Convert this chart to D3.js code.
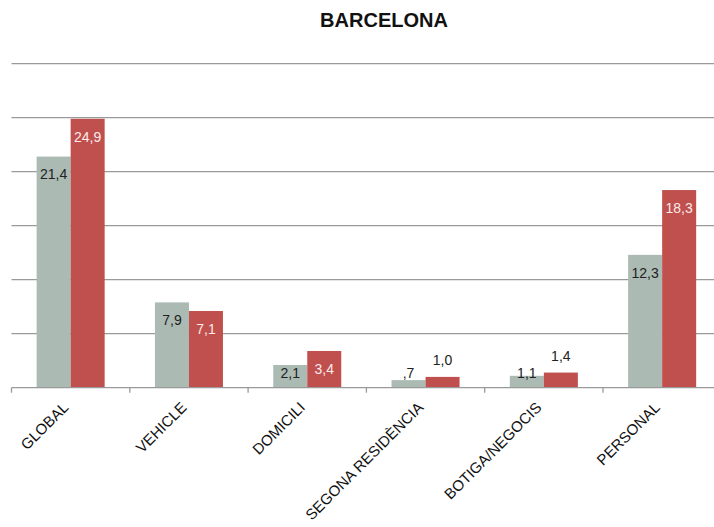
<!DOCTYPE html>
<html>
<head>
<meta charset="utf-8">
<script src="https://cdn.jsdelivr.net/npm/d3@7"></script>
<style>
  body { margin: 0; background: #fff; }
  svg { display: block; font-family: "Liberation Sans", Arial, sans-serif; }
</style>
</head>
<body>
<div id="chart"></div>
<script>
// data
var categories = ["GLOBAL", "VEHICLE", "DOMICILI", "SEGONA RESIDÈNCIA", "BOTIGA/NEGOCIS", "PERSONAL"];
var serieA = [21.4, 7.9, 2.1, 0.7, 1.1, 12.3];
var serieB = [24.9, 7.1, 3.4, 1.0, 1.4, 18.3];
var yTicks = [0, 5, 10, 15, 20, 25, 30];

var w = 714, h = 527;
var plotLeft = 11.5, step = 118.3,
    plotTop = 63.7, plotBottom = 387.7;

var colors = ["#abbab3", "#c0504d"];
var inside = ["#222", "#fbeaea"];

var svg = d3.select("#chart").append("svg")
    .attr("width", w)
    .attr("height", h);

var x = d3.scaleBand()
    .domain(categories)
    .range([plotLeft, plotLeft + step * categories.length])
    .paddingInner(0.425)
    .paddingOuter(0.2125);

var sub = d3.scaleBand()
    .domain([0, 1])
    .range([0, x.bandwidth()]);

var y = d3.scaleLinear()
    .domain([0, 30])
    .range([plotBottom, plotTop]);

// gridlines
svg.append("g")
  .selectAll("line")
  .data(yTicks.slice(1))
  .enter().append("line")
    .attr("x1", plotLeft)
    .attr("x2", w)
    .attr("y1", function(d) { return y(d); })
    .attr("y2", function(d) { return y(d); })
    .attr("stroke", "#9a9a9a")
    .attr("stroke-width", 1.3);

// bars
var rows = categories.map(function(c, i) {
  return [{cat: c, s: 0, v: serieA[i]}, {cat: c, s: 1, v: serieB[i]}];
});

var grp = svg.append("g")
  .selectAll("g")
  .data(rows)
  .enter().append("g")
    .attr("transform", function(d) { return "translate(" + x(d[0].cat) + ",0)"; });

grp.selectAll("rect")
  .data(function(d) { return d; })
  .enter().append("rect")
    .attr("x", function(d) { return sub(d.s); })
    .attr("width", sub.bandwidth())
    .attr("y", function(d) { return y(d.v); })
    .attr("height", function(d) { return y(0) - y(d.v); })
    .attr("fill", function(d) { return colors[d.s]; });

function fmt(v) {
  var s = v.toFixed(1).replace(".", ",");
  return s.charAt(0) == "0" ? s.slice(1) : s;
}

// label fits inside the bar top?
function fits(d) { return y(d.v) + 18 <= y(0) - 15; }

grp.selectAll("text")
  .data(function(d) { return d; })
  .enter().append("text")
    .attr("x", function(d) { return sub(d.s) + sub.bandwidth() / 2; })
    .attr("y", function(d) {
      if (fits(d)) return y(d.v) + 18;
      return d.s == 0 ? y(0) - 15 : y(d.v) - 16.5;
    })
    .attr("dy", "0.35em")
    .attr("text-anchor", "middle")
    .attr("font-size", 14)
    .attr("fill", function(d) {
      return fits(d) ? inside[d.s] : "#222";
    })
    .text(function(d) { return fmt(d.v); });

// x axis
var xAxis = svg.append("g")
    .attr("transform", "translate(0," + plotBottom + ")");

xAxis.append("line")
    .attr("x1", plotLeft)
    .attr("x2", w)
    .attr("stroke", "#9a9a9a")
    .attr("stroke-width", 1.3);

xAxis.selectAll(".tick")
  .data(categories)
  .enter().append("line")
    .attr("x1", function(d) { return x(d) - x.step() * x.paddingInner() / 2; })
    .attr("x2", function(d) { return x(d) - x.step() * x.paddingInner() / 2; })
    .attr("y1", 0)
    .attr("y2", 5)
    .attr("stroke", "#9a9a9a")
    .attr("stroke-width", 1.3);

xAxis.selectAll("text")
  .data(categories)
  .enter().append("text")
    .attr("transform", function(d) {
      return "translate(" + (x(d) + x.bandwidth() / 2 - 5) + ",17) rotate(-45)";
    })
    .attr("text-anchor", "end")
    .attr("dy", "0.35em")
    .attr("font-size", 15)
    .attr("fill", "#111")
    .text(function(d) { return d; });

// title
svg.append("text")
    .attr("x", 384)
    .attr("y", 27)
    .attr("text-anchor", "middle")
    .attr("font-size", 20)
    .attr("font-weight", "bold")
    .attr("fill", "#111")
    .text("BARCELONA");
</script>
</body>
</html>
